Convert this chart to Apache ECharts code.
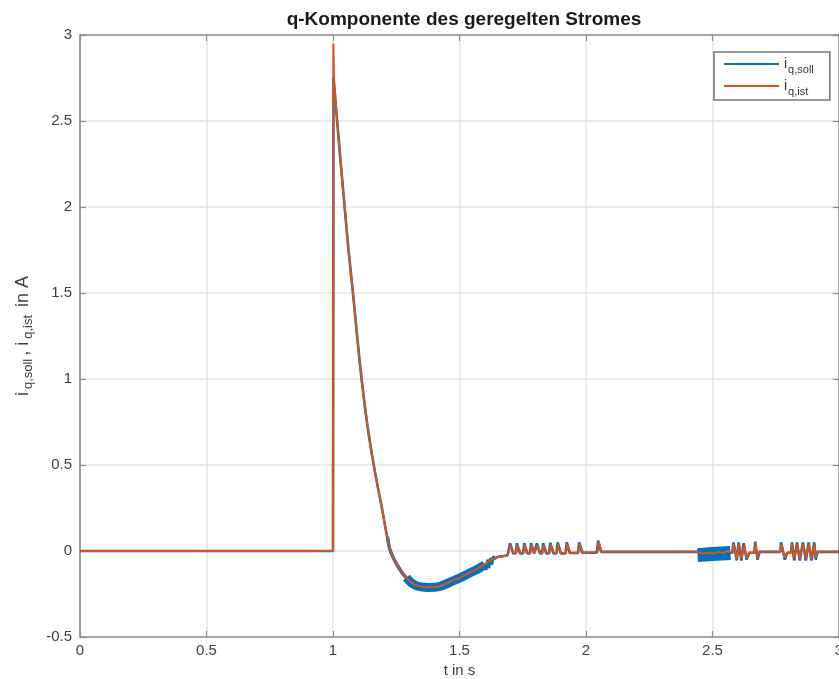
<!DOCTYPE html>
<html>
<head>
<meta charset="utf-8">
<script src="https://cdn.jsdelivr.net/npm/echarts@6/dist/echarts.min.js"></script>
<style>
html,body{margin:0;padding:0;background:#fff;overflow:hidden;}
#chart{width:839px;height:679px;}
</style>
</head>
<body>
<div id="chart"></div>
<script>
// ---- data ----
const titleText = 'q-Komponente des geregelten Stromes';
const xTicks = [0, 0.5, 1, 1.5, 2, 2.5, 3];
const yTicks = [-0.5, 0, 0.5, 1, 1.5, 2, 2.5, 3];

// i_q,ist (orange): step part, smooth decay part, rest
const tIstStep = [0, 1.000, 1.0015, 1.004];
const vIstStep = [0, 0, 2.95, 2.74];
const tIstDecay = [1.004, 1.025, 1.046, 1.062, 1.079, 1.096, 1.113, 1.136, 1.161, 1.192, 1.227, 1.255, 1.286, 1.326, 1.378, 1.42, 1.46, 1.50, 1.54, 1.575, 1.60];
const vIstDecay = [2.74, 2.35, 2.0, 1.74, 1.5, 1.24, 1.0, 0.73, 0.5, 0.26, 0, -0.085, -0.15, -0.198, -0.21, -0.205, -0.18, -0.155, -0.125, -0.10, -0.075];
const tIstRest = [1.60, 1.612, 1.618, 1.624, 1.630, 1.638, 1.65, 1.67, 1.69,
  1.697, 1.702, 1.714, 1.724, 1.729, 1.741, 1.753, 1.758, 1.770, 1.780, 1.785, 1.797,
  1.803, 1.808, 1.820, 1.828, 1.833, 1.845, 1.856, 1.861, 1.873, 1.885, 1.890, 1.902,
  1.921, 1.926, 1.938, 1.970, 1.975, 1.987, 2.045, 2.050, 2.062,
  2.44, 2.46, 2.48, 2.50, 2.52, 2.54, 2.56, 2.578,
  2.585, 2.596, 2.605, 2.614, 2.625, 2.635, 2.645, 2.665, 2.670, 2.677, 2.685,
  2.768, 2.772, 2.785, 2.795, 2.810, 2.815, 2.822, 2.835, 2.844, 2.858, 2.868, 2.881, 2.890, 2.903, 2.907, 2.915, 3.0];
const vIstRest = [-0.075, -0.065, -0.07, -0.05, -0.06, -0.045, -0.035, -0.03, -0.025,
  -0.02, 0.035, -0.012, -0.012, 0.035, -0.012, -0.012, 0.035, -0.012, -0.012, 0.035, -0.012,
  -0.012, 0.035, -0.012, -0.012, 0.035, -0.012, -0.012, 0.038, -0.012, -0.012, 0.04, -0.012,
  -0.012, 0.04, -0.01, -0.01, 0.04, -0.008, -0.008, 0.05, -0.005,
  -0.005, -0.015, -0.01, -0.015, -0.005, -0.012, 0.0, -0.01,
  0.04, -0.045, 0.04, -0.045, 0.035, -0.04, -0.01, -0.01, 0.045, -0.04, -0.005,
  -0.005, 0.04, -0.04, -0.01, -0.01, 0.04, -0.045, 0.04, -0.045, 0.04, -0.045, 0.04, -0.045, 0.04, -0.04, -0.005, -0.005];

// i_q,soll (blue): step part, smooth decay part, rest
const tSollStep = [0, 1.000, 1.002];
const vSollStep = [0, 0, 2.75];
const tSollDecay = [1.002, 1.025, 1.046, 1.062, 1.079, 1.096, 1.113, 1.136, 1.161, 1.192, 1.227, 1.255, 1.286, 1.326, 1.378, 1.42, 1.46, 1.50, 1.54, 1.575, 1.60];
const vSollDecay = [2.75, 2.35, 2.0, 1.74, 1.5, 1.24, 1.0, 0.73, 0.5, 0.26, 0, -0.085, -0.15, -0.198, -0.21, -0.205, -0.18, -0.155, -0.125, -0.10, -0.075];
const tSollRest = [1.60, 1.606, 1.611, 1.617, 1.622, 1.628, 1.634, 1.640, 1.65, 1.67, 1.69,
  1.695, 1.700, 1.712, 1.722, 1.727, 1.739, 1.751, 1.756, 1.768, 1.778, 1.783, 1.795,
  1.801, 1.806, 1.818, 1.826, 1.831, 1.843, 1.854, 1.859, 1.871, 1.883, 1.888, 1.900,
  1.919, 1.924, 1.936, 1.968, 1.973, 1.985, 2.043, 2.048, 2.060,
  2.44, 2.578,
  2.583, 2.596, 2.603, 2.614, 2.623, 2.635, 2.645, 2.665, 2.669, 2.678, 2.686,
  2.768, 2.771, 2.786, 2.795, 2.810, 2.814, 2.823, 2.834, 2.845, 2.857, 2.869, 2.880, 2.891, 2.902, 2.908, 2.915, 3.0];
const vSollRest = [-0.075, -0.11, -0.05, -0.10, -0.04, -0.08, -0.03, -0.045, -0.035, -0.03, -0.025,
  -0.02, 0.045, -0.014, -0.014, 0.045, -0.014, -0.014, 0.045, -0.014, -0.014, 0.045, -0.014,
  -0.014, 0.045, -0.014, -0.014, 0.045, -0.014, -0.014, 0.048, -0.014, -0.014, 0.05, -0.014,
  -0.014, 0.05, -0.012, -0.012, 0.05, -0.01, -0.01, 0.06, -0.005,
  -0.005, -0.01,
  0.05, -0.055, 0.05, -0.055, 0.045, -0.05, -0.01, -0.01, 0.055, -0.05, -0.005,
  -0.005, 0.05, -0.05, -0.01, -0.01, 0.05, -0.055, 0.05, -0.055, 0.05, -0.055, 0.05, -0.055, 0.05, -0.05, -0.005, -0.005];

// dense high-frequency parts of i_q,soll (drawn as wide bands)
const tBandA = [1.215, 1.227, 1.255, 1.286, 1.31];
const vBandA = [0.085, 0, -0.085, -0.15, -0.178];
const tBandB = [1.29, 1.326, 1.378, 1.42, 1.46, 1.50, 1.54, 1.575, 1.60];
const vBandB = [-0.155, -0.2, -0.212, -0.207, -0.183, -0.158, -0.128, -0.103, -0.08];
const tBandC = [2.441, 2.50, 2.571];
const vBandC = [-0.024, -0.018, -0.012];

const zip = (t, v) => t.map((x, i) => [x, v[i]]);

const BLUE = '#0072BD', ORANGE = '#D95319';
const AX = '#8c8c8c', TXT = '#404040', GRID = '#e6e6e6';
const FONT = 'Liberation Sans, Arial, Helvetica, sans-serif';

const chart = echarts.init(document.getElementById('chart'), null, {renderer: 'canvas'});

const axisCommon = {
  type: 'value',
  axisLine: {show: true, onZero: false, lineStyle: {color: AX, width: 1.6}},
  axisTick: {show: true, inside: true, length: 6, lineStyle: {color: AX, width: 1.2}},
};

function lineSeries(name, t, v, color, width, z, smooth) {
  return {name: name, type: 'line', data: zip(t, v), showSymbol: false, smooth: smooth || false,
    lineStyle: {color: color, width: width}, itemStyle: {color: color}, z: z, silent: true};
}

chart.setOption({
  animation: false,
  backgroundColor: '#fff',
  title: {
    text: titleText,
    left: 459, top: 5, textAlign: 'center',
    textStyle: {fontFamily: FONT, fontSize: 19, fontWeight: 'bold', color: '#1a1a1a'}
  },
  grid: {left: 80, top: 35, width: 759, height: 602, containLabel: false, outerBoundsMode: 'none'},
  legend: {
    data: ['soll', 'ist'],
    orient: 'vertical',
    left: 714, top: 52,
    padding: [5, 16, 3, 10],
    itemGap: 4,
    itemWidth: 55, itemHeight: 2,
    icon: 'rect',
    backgroundColor: '#fff',
    borderColor: '#7a7a7a', borderWidth: 1.6,
    formatter: n => n === 'soll' ? '{m|i}{s|q,soll}' : '{m|i}{s|q,ist}',
    textStyle: {
      fontFamily: FONT, color: '#333',
      rich: {
        m: {fontFamily: FONT, fontSize: 14, color: '#333', verticalAlign: 'top', lineHeight: 14},
        s: {fontFamily: FONT, fontSize: 11, color: '#333', verticalAlign: 'top', lineHeight: 11, padding: [7, 0, 0, 1]}
      }
    }
  },
  xAxis: [
    Object.assign({}, axisCommon, {
      position: 'bottom', min: xTicks[0], max: xTicks[xTicks.length - 1], interval: 0.5,
      name: 't in s', nameLocation: 'middle', nameGap: 20,
      nameTextStyle: {fontFamily: FONT, fontSize: 15, color: TXT},
      axisLabel: {show: true, margin: 6, fontFamily: FONT, fontSize: 15, color: TXT, showMaxLabel: true, showMinLabel: true},
      splitLine: {show: true, lineStyle: {color: GRID, width: 1.5}}
    }),
    Object.assign({}, axisCommon, {
      position: 'top', min: xTicks[0], max: xTicks[xTicks.length - 1], interval: 0.5,
      axisLabel: {show: false}, splitLine: {show: false}
    })
  ],
  yAxis: [
    Object.assign({}, axisCommon, {
      position: 'left', min: yTicks[0], max: yTicks[yTicks.length - 1], interval: 0.5,
      name: '{m|i}{s|q,soll}{m|, i}{s|q,ist}{m| in A}',
      nameLocation: 'middle', nameGap: 46, nameRotate: 90,
      nameTextStyle: {
        fontFamily: FONT, color: TXT,
        rich: {
          m: {fontFamily: FONT, fontSize: 18, color: TXT, verticalAlign: 'top', lineHeight: 18},
          s: {fontFamily: FONT, fontSize: 13, color: TXT, verticalAlign: 'top', lineHeight: 13, padding: [8, 3, 0, 3]}
        }
      },
      axisLabel: {show: true, margin: 8, fontFamily: FONT, fontSize: 15, color: TXT},
      splitLine: {show: true, lineStyle: {color: GRID, width: 1.5}}
    }),
    Object.assign({}, axisCommon, {
      position: 'right', min: yTicks[0], max: yTicks[yTicks.length - 1], interval: 0.5,
      axisLabel: {show: false}, splitLine: {show: false}
    })
  ],
  series: [
    lineSeries('bandA', tBandA, vBandA, BLUE, 3.5, 2, 0.4),
    lineSeries('bandB', tBandB, vBandB, BLUE, 9, 2, 0.4),
    lineSeries('bandC', tBandC, vBandC, BLUE, 14, 2, false),
    lineSeries('soll', tSollStep, vSollStep, BLUE, 2.6, 3, false),
    lineSeries('soll', tSollDecay, vSollDecay, BLUE, 2.6, 3, 0.4),
    lineSeries('soll', tSollRest, vSollRest, BLUE, 2.6, 3, false),
    lineSeries('ist', tIstStep, vIstStep, ORANGE, 2, 4, false),
    lineSeries('ist', tIstDecay, vIstDecay, ORANGE, 2, 4, 0.4),
    lineSeries('ist', tIstRest, vIstRest, ORANGE, 2, 4, false)
  ]
});
</script>
</body>
</html>
